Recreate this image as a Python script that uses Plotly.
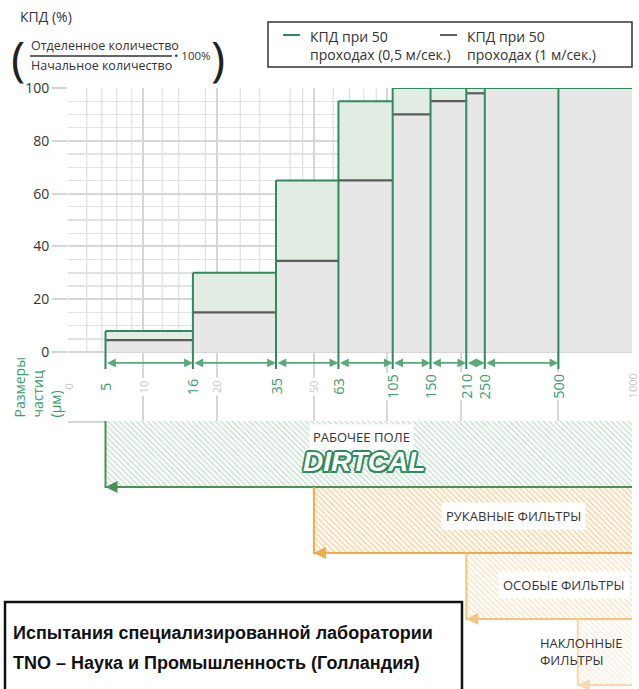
import numpy as np
import plotly.graph_objects as go

# ---------------- data ----------------
edges = [5, 16, 35, 63, 105, 150, 210, 250, 500, 1000]          # particle size bins (µm)
eff_05 = [8, 30, 65, 95, 100, 100, 100, 100, 100]               # КПД при 50 проходах (0,5 м/сек.)
eff_1 = [4.5, 15, 34.5, 65, 90, 95, 98, 100, 100]               # КПД при 50 проходах (1 м/сек.)
edge_labels = ["5", "16", "35", "63", "105", "150", "210", "250", "500"]
grid_major = [0, 10, 20, 50, 100, 200, 500, 1000]
gray_label_vals = [0, 10, 20, 50, 1000]
gray_labels = ["0", "10", "20", "50", "1000"]
grid_minor = [2.5, 4.5, 6.5, 8.5, 12, 14, 18, 25, 30, 40, 45, 60, 70, 80, 90]
y_ticks = [0, 20, 40, 60, 80, 100]
y_minor = [v for v in range(5, 100, 5) if v % 20]
band_names = ["РАБОЧЕЕ ПОЛЕ", "РУКАВНЫЕ ФИЛЬТРЫ", "ОСОБЫЕ ФИЛЬТРЫ", "НАКЛОННЫЕ<br>ФИЛЬТРЫ"]
band_from = [5, 50, 210, 600]
band_to = [1000, 1000, 1000, 1000]
legend_names = ["КПД при 50<br>проходах (0,5 м/сек.)", "КПД при 50<br>проходах (1 м/сек.)"]

# ---------------- scale (linear 0..10, logarithmic 10..1000) ----------------
T0 = 0.6933


def sx(v):
    v = float(v)
    return float(np.log10(v)) if v >= 10 else T0 + (1 - T0) * v / 10


W, H = 639, 689


def px(x):
    return x / W


def py(y):
    return 1 - y / H


GREEN = "#2f8a5e"
GREEN_TXT = "#3a9a6a"
GRAYLINE = "#5c5c5c"
GRID = "#d6d6d6"
GRID_MINOR = "#e2e2e2"
FONT = "Open Sans"

fig = go.Figure()

lo = [sx(a) for a in edges[:-1]]
hi = [sx(b) for b in edges[1:]]
centers = [(a + b) / 2 for a, b in zip(lo, hi)]
widths = [b - a for a, b in zip(lo, hi)]

fig.add_trace(go.Bar(x=centers, y=eff_1, base=[0] * len(eff_1), width=widths,
                     marker=dict(color="#e7e7e7", line_width=0),
                     showlegend=False, hoverinfo="skip"))
fig.add_trace(go.Bar(x=centers, y=[g - k for g, k in zip(eff_05, eff_1)], base=eff_1,
                     width=widths, marker=dict(color="#e1ece3", line_width=0),
                     showlegend=False, hoverinfo="skip"))

# gray step line (1 m/s)
gx, gy = [], []
for a, b, v in zip(lo, hi, eff_1):
    gx += [a, b, None]
    gy += [v, v, None]
fig.add_trace(go.Scatter(x=gx, y=gy, mode="lines", line=dict(color=GRAYLINE, width=2.2),
                         name=legend_names[1], showlegend=False, hoverinfo="skip"))

# green outline (0,5 m/s) with boundary lines extending below zero
ox, oy = [], []
for a, b, v in zip(lo, hi, eff_05):
    ox += [a, b, None]
    oy += [v, v, None]
for i, e in enumerate(edges[:-1]):
    top = max(eff_05[i], eff_05[i - 1] if i > 0 else 0)
    ox += [sx(e), sx(e), None]
    oy += [-6.4, top, None]
fig.add_trace(go.Scatter(x=ox, y=oy, mode="lines", line=dict(color=GREEN, width=2),
                         name=legend_names[0], showlegend=False, hoverinfo="skip"))

# hatched bands
band_fg = ["#9fc6ab", "#eeac50", "#f5cb92", "#f9dfbd"]
band_line = ["#4e8f57", "#efaa4c", "#f4c483", "#f8d7ae"]
for i, (f, t) in enumerate(zip(band_from, band_to)):
    a, b = sx(f), sx(t)
    fig.add_trace(go.Scatter(x=[a, b, b, a, a], y=[i, i, i + 1, i + 1, i], mode="lines",
                             fill="toself", fillcolor="white", line=dict(width=0),
                             fillpattern=dict(shape="\\", fgcolor=band_fg[i], bgcolor="white",
                                              size=4, solidity=0.45),
                             xaxis="x2", yaxis="y2", showlegend=False, hoverinfo="skip"))
for i, (f, t) in enumerate(zip(band_from, band_to)):
    a, b = sx(f), sx(t)
    fig.add_trace(go.Scatter(x=[a, a, b], y=[i, i + 1, i + 1], mode="lines",
                             line=dict(color=band_line[i], width=2),
                             xaxis="x2", yaxis="y2", showlegend=False, hoverinfo="skip"))

annotations = []
shapes = []

# arrowheads of bands
for i, f in enumerate(band_from):
    annotations.append(dict(x=sx(f), y=i + 1, xref="x2", yref="y2", ax=20, ay=0, text="",
                            showarrow=True, arrowhead=2, arrowsize=1.2, arrowwidth=2,
                            arrowcolor=band_line[i], standoff=0))

# dimension arrows between bin edges
for a, b in zip(edges[:-2], edges[1:-1]):
    annotations.append(dict(x=sx(b), y=-4.1, ax=sx(a), ay=-4.1, xref="x", yref="y",
                            axref="x", ayref="y", text="", showarrow=True,
                            arrowside="end+start", arrowhead=2, startarrowhead=2,
                            arrowsize=1.1, startarrowsize=1.1, arrowwidth=1.6,
                            arrowcolor="#5aa87c", standoff=0, startstandoff=0))

# edge labels (green)
for e, lab in zip(edges[:-1], edge_labels):
    annotations.append(dict(x=sx(e), y=-13.0, xref="x", yref="y", text=lab, showarrow=False,
                            xanchor="center", yanchor="middle",
                            textangle=-90, font=dict(family=FONT, size=14.5, color=GREEN_TXT),
                            bgcolor="white", borderpad=1))
# grid labels (gray)
for v, lab in zip(gray_label_vals, gray_labels):
    annotations.append(dict(x=sx(v), y=-13.0, xref="x", yref="y", text=lab, showarrow=False,
                            xanchor="center", yanchor="middle",
                            textangle=-90, font=dict(family=FONT, size=11, color="#c6c6c6"),
                            bgcolor="white", borderpad=2))

# minor vertical gridlines (only inside 0..100)
for m in grid_minor:
    shapes.append(dict(type="line", xref="x", yref="y", x0=sx(m), x1=sx(m), y0=0, y1=100,
                       line=dict(color=GRID_MINOR, width=1.3), layer="below"))

# axis title (rotated)
annotations.append(dict(x=px(8), y=py(420), xref="paper", yref="paper", xanchor="left",
                        yanchor="bottom", text="Размеры<br>частиц<br>(μм)", align="left",
                        textangle=-90, showarrow=False,
                        font=dict(family=FONT, size=14, color=GREEN_TXT)))

# top-left title and formula
annotations.append(dict(x=px(18), y=py(17), xref="paper", yref="paper", xanchor="left",
                        yanchor="middle", text="КПД (%)", showarrow=False,
                        font=dict(family=FONT, size=14, color="#333")))
annotations.append(dict(x=px(18), y=py(57), xref="paper", yref="paper", xanchor="center",
                        yanchor="middle", text="(", showarrow=False,
                        font=dict(family=FONT, size=48, color="#222")))
annotations.append(dict(x=px(218), y=py(57), xref="paper", yref="paper", xanchor="center",
                        yanchor="middle", text=")", showarrow=False,
                        font=dict(family=FONT, size=48, color="#222")))
annotations.append(dict(x=px(29), y=py(46), xref="paper", yref="paper", xanchor="left",
                        yanchor="middle", text="Отделенное количество", showarrow=False,
                        font=dict(family=FONT, size=12.5, color="#333")))
annotations.append(dict(x=px(29), y=py(66), xref="paper", yref="paper", xanchor="left",
                        yanchor="middle", text="Начальное количество", showarrow=False,
                        font=dict(family=FONT, size=12.5, color="#333")))
annotations.append(dict(x=px(172), y=py(56), xref="paper", yref="paper", xanchor="left",
                        yanchor="middle", text="• 100%", showarrow=False,
                        font=dict(family=FONT, size=11.5, color="#333")))
shapes.append(dict(type="line", xref="paper", yref="paper", x0=px(30), x1=px(172),
                   y0=py(56), y1=py(56), line=dict(color="#333", width=1.5)))

# legend box
shapes.append(dict(type="rect", xref="paper", yref="paper", x0=px(268), x1=px(632),
                   y0=py(67), y1=py(22), line=dict(color="#333", width=1.5),
                   fillcolor="white"))
shapes.append(dict(type="line", xref="paper", yref="paper", x0=px(283), x1=px(300),
                   y0=py(35), y1=py(35), line=dict(color=GREEN, width=2)))
shapes.append(dict(type="line", xref="paper", yref="paper", x0=px(440), x1=px(457),
                   y0=py(35), y1=py(35), line=dict(color=GRAYLINE, width=2)))
for xl, name in zip([308, 465], legend_names):
    annotations.append(dict(x=px(xl), y=py(45), xref="paper", yref="paper", xanchor="left",
                            yanchor="middle", text=name, align="left", showarrow=False,
                            font=dict(family=FONT, size=14, color="#333")))

# band labels
annotations.append(dict(x=px(361), y=py(437), xref="paper", yref="paper", text=band_names[0],
                        xanchor="center", yanchor="middle", showarrow=False, bgcolor="white",
                        borderpad=3, font=dict(family=FONT, size=13, color="#333")))
annotations.append(dict(x=px(364), y=py(462), xref="paper", yref="paper", text="DIRTCAL",
                        xanchor="center", yanchor="middle", showarrow=False,
                        font=dict(family="Liberation Sans", size=28, color="white",
                                  weight="bold", style="italic",
                                  shadow="-1.5px -1.5px 0 #2f8a5e, 1.5px -1.5px 0 #2f8a5e, "
                                         "-1.5px 1.5px 0 #2f8a5e, 1.5px 1.5px 0 #2f8a5e, "
                                         "0 2px 0 #2f8a5e, 0 -2px 0 #2f8a5e, 2px 0 0 #2f8a5e, -2px 0 0 #2f8a5e")))
annotations.append(dict(x=px(513), y=py(516), xref="paper", yref="paper", text=band_names[1],
                        xanchor="center", yanchor="middle", showarrow=False, bgcolor="white",
                        borderpad=4, font=dict(family=FONT, size=13, color="#333")))
annotations.append(dict(x=px(564), y=py(585), xref="paper", yref="paper", text=band_names[2],
                        xanchor="center", yanchor="middle", showarrow=False, bgcolor="white",
                        borderpad=4, font=dict(family=FONT, size=13, color="#333")))
annotations.append(dict(x=px(538), y=py(651), xref="paper", yref="paper", xanchor="left",
                        yanchor="middle", text=band_names[3], align="left", showarrow=False,
                        font=dict(family=FONT, size=13, color="#333")))

# bottom box
shapes.append(dict(type="rect", xref="paper", yref="paper", x0=px(5), x1=px(462),
                   y0=py(700), y1=py(602), line=dict(color="#111", width=2.5),
                   fillcolor="white", layer="above"))
annotations.append(dict(x=px(11), y=py(633), xref="paper", yref="paper", xanchor="left",
                        yanchor="middle", text="Испытания специализированной лаборатории",
                        showarrow=False,
                        font=dict(family="Liberation Sans", size=18, color="#111", weight="bold")))
annotations.append(dict(x=px(11), y=py(663), xref="paper", yref="paper", xanchor="left",
                        yanchor="middle", text="TNO – Наука и Промышленность (Голландия)",
                        showarrow=False,
                        font=dict(family="Liberation Sans", size=18, color="#111", weight="bold")))

xdom = [px(68), px(632)]
fig.update_layout(
    width=W, height=H, margin=dict(l=0, r=0, t=0, b=0, autoexpand=False),
    paper_bgcolor="white", plot_bgcolor="white",
    barmode="overlay", showlegend=False,
    font=dict(family=FONT, color="#333"),
    xaxis=dict(domain=xdom, range=[sx(0), sx(1000)], tickvals=[sx(v) for v in grid_major],
               showticklabels=False, ticks="", showgrid=True, gridcolor=GRID, gridwidth=2,
               zeroline=False, showline=True, linecolor=GRID, linewidth=2, anchor="y",
               fixedrange=True, automargin=False),
    yaxis=dict(domain=[py(421), py(88)], range=[-26.1, 100], tickvals=y_ticks,
               ticktext=[str(v) for v in y_ticks], ticks="outside", ticklen=15,
               tickcolor=GRID, tickwidth=2, showgrid=True, gridcolor=GRID, gridwidth=2,
               minor=dict(tickvals=y_minor, showgrid=True, gridcolor=GRID_MINOR, gridwidth=1.3,
                          ticks=""),
               zeroline=False, showline=False, tickfont=dict(size=14, color="#333"),
               anchor="x", fixedrange=True, automargin=False),
    xaxis2=dict(domain=xdom, matches="x", anchor="y2", visible=False, showgrid=False),
    yaxis2=dict(domain=[0, py(421)], range=[4.06, 0], anchor="x2", visible=False,
                showgrid=False),
    annotations=annotations, shapes=shapes,
)

fig.write_html("out.html", config={"displayModeBar": False, "staticPlot": True},
               post_script="document.body.style.margin='0';document.body.style.overflow='hidden';")
